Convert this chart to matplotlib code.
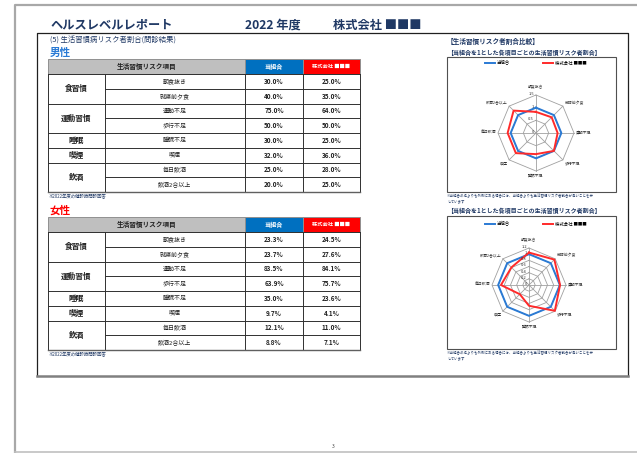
import numpy as np
import matplotlib.pyplot as plt
from matplotlib.patches import Rectangle

plt.rcParams['font.family'] = ['Noto Sans CJK JP', 'DejaVu Sans']

items = ['朝食抜き', '就寝前夕食', '運動不足', '歩行不足', '睡眠不足', '喫煙', '毎日飲酒', '飲酒2合以上']
groups = ['食習慣', '運動習慣', '睡眠', '喫煙', '飲酒']
group_rows = [2, 2, 1, 1, 2]
male_union = [30.0, 40.0, 75.0, 50.0, 30.0, 32.0, 25.0, 20.0]
male_company = [25.0, 35.0, 64.0, 50.0, 25.0, 36.0, 28.0, 25.0]
female_union = [23.3, 23.7, 83.5, 63.9, 35.0, 9.7, 12.1, 8.8]
female_company = [24.5, 27.6, 84.1, 75.7, 23.6, 4.1, 11.0, 7.1]
male_levels = [0, 0.5, 1, 1.5]
female_levels = [0, 0.2, 0.4, 0.6, 0.8, 1, 1.2]

NAVY = '#1f3864'
BLUE = '#0070c0'
RED = '#ff0000'
LBLUE = '#2a7ad4'
LRED = '#ff2a2a'

W, H = 637, 453
fig = plt.figure(figsize=(W / 100, H / 100), dpi=100)
ax = fig.add_axes([0, 0, 1, 1])
ax.set_xlim(0, W)
ax.set_ylim(H, 0)
ax.axis('off')

# page frame
ax.plot([15, 15, 640], [453, 5, 5], color='#a8a8a8', lw=1.6)
ax.plot([15, 640], [451.5, 451.5], color='#c0c0c0', lw=1.2)
# inner box
ax.plot([37, 37, 628, 628], [376, 33, 33, 376], color='#202020', lw=0.9)
ax.plot([37, 628], [376, 376], color='#808080', lw=1.8)

ax.text(50, 25, 'ヘルスレベルレポート', fontsize=8.8, color=NAVY, va='center', weight='bold')
ax.text(245, 25, '2022 年度', fontsize=8.8, color=NAVY, va='center', weight='bold')
ax.text(333, 25, '株式会社 ■■■', fontsize=8.8, color=NAVY, va='center', weight='bold')
ax.text(50, 41, '(5) 生活習慣病リスク者割合(問診結果)', fontsize=5.3, color=NAVY, va='center')
ax.text(333, 446, '3', fontsize=3.5, color='#404040', ha='center', va='center')


def draw_table(y0, union, company):
    xs = [48, 105, 245, 303, 360]
    hh, rh = 15, 14.75
    lc, lw = '#303030', 0.7
    ax.add_patch(Rectangle((xs[0], y0), xs[2] - xs[0], hh, fc='#bfbfbf', ec='#909090', lw=lw))
    ax.add_patch(Rectangle((xs[2], y0), xs[3] - xs[2], hh, fc=BLUE, ec='#909090', lw=lw))
    ax.add_patch(Rectangle((xs[3], y0), xs[4] - xs[3], hh, fc=RED, ec='#909090', lw=lw))
    ax.text((xs[0] + xs[2]) / 2, y0 + hh / 2, '生活習慣リスク項目', fontsize=4.8,
            weight='bold', ha='center', va='center', color='#202020')
    ax.text((xs[2] + xs[3]) / 2, y0 + hh / 2, '当組合', fontsize=4.4,
            weight='bold', ha='center', va='center', color='white')
    ax.text((xs[3] + xs[4]) / 2, y0 + hh / 2, '株式会社 ■■■', fontsize=3.8,
            weight='bold', ha='center', va='center', color='white')
    top = y0 + hh
    bottom = top + rh * len(items)
    for x in xs:
        ax.plot([x, x], [top, bottom], color=lc, lw=lw)
    row = 0
    for g, n in zip(groups, group_rows):
        gy = top + rh * row
        ax.plot([xs[0], xs[4]], [gy, gy], color=lc, lw=lw)
        ax.text((xs[0] + xs[1]) / 2, gy + rh * n / 2, g, fontsize=5.5, weight='bold',
                ha='center', va='center', color='#202020')
        for k in range(n):
            ry = gy + rh * k
            if k > 0:
                ax.plot([xs[1], xs[4]], [ry, ry], color=lc, lw=lw)
            i = row + k
            cy = ry + rh / 2
            ax.text((xs[1] + xs[2]) / 2, cy, items[i], fontsize=4.3, ha='center',
                    va='center', color='#202020')
            ax.text((xs[2] + xs[3]) / 2, cy, f'{union[i]:.1f}%', fontsize=4.6,
                    weight='bold', ha='center', va='center', color='#202020')
            ax.text((xs[3] + xs[4]) / 2, cy, f'{company[i]:.1f}%', fontsize=4.6,
                    weight='bold', ha='center', va='center', color='#202020')
        row += n
    ax.plot([xs[0], xs[4]], [bottom, bottom], color='#606060', lw=1.0)
    ax.text(xs[0], bottom + 5, '※2022年度の健診時問診回答', fontsize=3.2,
            color=NAVY, va='center')


ax.text(50, 53, '男性', fontsize=7.6, weight='bold', color=LBLUE, va='center')
draw_table(59, male_union, male_company)
ax.text(50, 211, '女性', fontsize=7.6, weight='bold', color=RED, va='center')
draw_table(217, female_union, female_company)

# right panel
ax.text(447, 41, '【生活習慣リスク者割合比較】', fontsize=4.8, weight='bold', color=NAVY, va='center')
note = '※当組合の枠よりも外側にある場合には、当組合よりも生活習慣リスク者割合が高いことを示\nしています'
for title_y, by0, by1 in [(53, 57, 192), (210, 216, 349)]:
    ax.text(447, title_y, '【当組合を1とした各項目ごとの生活習慣リスク者割合】', fontsize=4.3,
            weight='bold', color=NAVY, va='center')
    ax.add_patch(Rectangle((447, by0), 616 - 447, by1 - by0, fc='none', ec='#505050', lw=0.8))
    ax.text(447, by1 + 2, note, fontsize=2.5, color=NAVY, va='top', linespacing=1.3)


def draw_radar(cx, cy, r, levels, union, company, leg_y):
    rmax = levels[-1]
    rax = fig.add_axes([(cx - r) / W, 1 - (cy + r) / H, 2 * r / W, 2 * r / H],
                       projection='polar')
    rax.set_theta_zero_location('N')
    rax.set_theta_direction(-1)
    rax.set_ylim(0, rmax)
    rax.axis('off')
    ang = np.linspace(0, 2 * np.pi, len(items), endpoint=False)
    ring = np.append(ang, ang[0])
    for lev in levels[1:]:
        rax.plot(ring, [lev] * len(ring), color='#a0a0a0', lw=0.6, clip_on=False)
    for a in ang:
        rax.plot([a, a], [0, rmax], color='#a0a0a0', lw=0.6, clip_on=False)
    base = np.array(union) / np.array(union)
    ratio = np.array(company) / np.array(union)
    rax.plot(ring, np.append(base, base[0]), color=LBLUE, lw=1.4, label='当組合', clip_on=False)
    rax.plot(ring, np.append(ratio, ratio[0]), color=LRED, lw=1.4, label='株式会社 ■■■',
             clip_on=False)
    for lev in levels:
        rax.annotate(f'{lev:g}', xy=(0, lev), xytext=(-1.5, 0.8), textcoords='offset points',
                     ha='right', va='center', fontsize=2.9, color='#303030')
    for a, name in zip(ang, items):
        s, c = np.sin(a), np.cos(a)
        ha = 'left' if s > 0.1 else ('right' if s < -0.1 else 'center')
        va = 'bottom' if c > 0.1 else ('top' if c < -0.1 else 'center')
        off = (0, 4.5) if c > 0.9 else (1.5 * s, 1.5 * c)
        rax.annotate(name, xy=(a, rmax), xytext=off, textcoords='offset points',
                     ha=ha, va=va, fontsize=2.8, color='#303030')
    rax.legend(loc='center', bbox_to_anchor=(536 / W, 1 - leg_y / H),
               bbox_transform=fig.transFigure, ncol=2, frameon=False, fontsize=3.2,
               handlelength=2.2, handletextpad=0.4, columnspacing=7.5)


draw_radar(536, 133, 38, male_levels, male_union, male_company, 63)
draw_radar(529, 285, 37, female_levels, female_union, female_company, 224)

fig.savefig('out.png', dpi=100)
